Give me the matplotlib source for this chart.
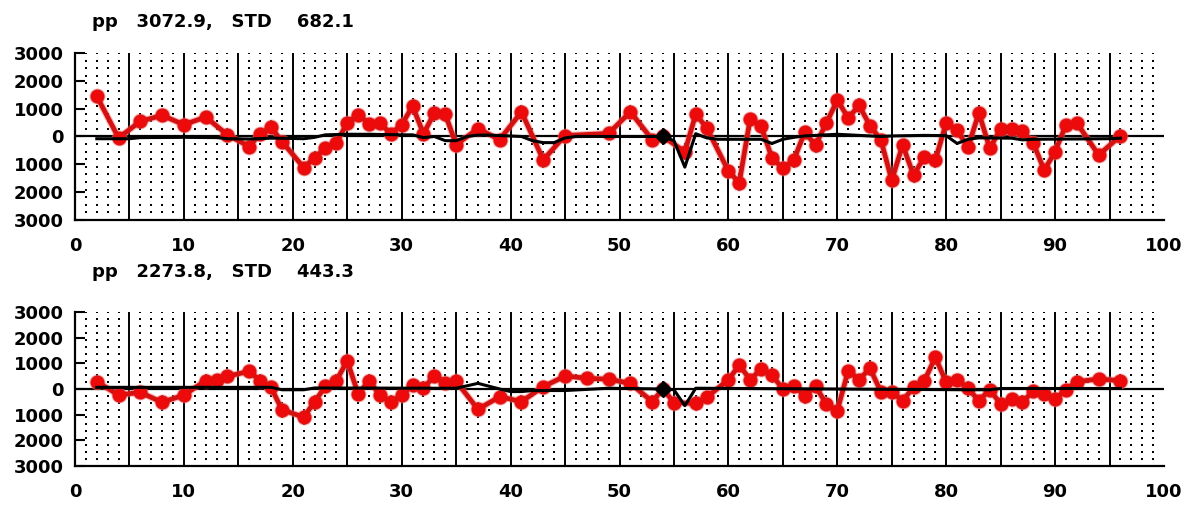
import matplotlib
matplotlib.use("Agg")
import matplotlib.pyplot as plt
from matplotlib.ticker import FixedLocator, FixedFormatter

plt.rcParams['font.family'] = ['DejaVu Sans']

# ---------------- data ----------------
titles = ["pp   3072.9,   STD    682.1", "pp   2273.8,   STD    443.3"]

x_ticks = [0, 10, 20, 30, 40, 50, 60, 70, 80, 90, 100]
x_tick_labels = ["0", "10", "20", "30", "40", "50", "60", "70", "80", "90", "100"]
y_ticks = [-3000, -2000, -1000, 0, 1000, 2000, 3000]
y_tick_labels = ["3000", "2000", "1000", "0", "1000", "2000", "3000"]

# panel 1 red series
red1_x = [2, 4, 6, 8, 10, 12, 14, 16, 17, 18, 19, 21, 22, 23, 24, 25, 26, 27, 28, 29,
          30, 31, 32, 33, 34, 35, 37, 39, 41, 43, 45, 49, 51, 53, 54, 56, 57, 58, 60,
          61, 62, 63, 64, 65, 66, 67, 68, 69, 70, 71, 72, 73, 74, 75, 76, 77, 78, 79,
          80, 81, 82, 83, 84, 85, 86, 87, 88, 89, 90, 91, 92, 94, 96]
red1_y = [1450, -50, 545, 760, 425, 700, 60, -360, 100, 330, -180, -1115, -760, -420, -220,
          485, 790, 460, 485, 100, 425, 1090, 100, 840, 800, -290, 280, -110, 885, -840,
          35, 110, 885, -110, 0, -550, 800, 315, -1240, -1660, 640, 375, -775, -1140,
          -850, 145, -300, 485, 1310, 670, 1115, 390, -120, -1575, -300, -1390, -730,
          -850, 485, 220, -390, 850, -425, 280, 255, 195, -240, -1210, -545, 425, 485,
          -665, 25]

# panel 1 black series
blk1_x = [2, 5, 6, 10, 13, 14, 16, 18, 20, 21, 22, 23, 25, 27, 30, 31, 32, 33, 34, 35,
          36, 37, 38, 41, 42, 43, 44, 45, 46, 53, 54, 55, 56, 57, 58, 59, 63, 64, 65,
          66, 67, 69, 70, 74, 75, 78, 80, 81, 82, 83, 86, 87, 88, 95, 96]
blk1_y = [-80, -80, -40, -30, -40, -80, -90, -60, -70, -80, -30, 60, 80, 80, 60, 60,
          -40, 0, -150, -150, 0, 50, 50, 0, -150, -220, -220, -50, 0, 0, 0, -150, -1100,
          100, -50, -100, -100, -250, -100, -30, 20, 60, 80, 0, 20, 40, 30, -250, -100,
          -50, -60, -120, -100, -80, -60]

# panel 2 red series
red2_x = [2, 4, 6, 8, 10, 12, 13, 14, 16, 17, 18, 19, 21, 22, 23, 24, 25, 26, 27, 28,
          29, 30, 31, 32, 33, 34, 35, 37, 39, 41, 43, 45, 47, 49, 51, 53, 54, 55, 57,
          58, 60, 61, 62, 63, 64, 65, 66, 67, 68, 69, 70, 71, 72, 73, 74, 75, 76, 77,
          78, 79, 80, 81, 82, 83, 84, 85, 86, 87, 88, 89, 90, 91, 92, 94, 96]
red2_y = [285, -235, -130, -520, -235, 325, 365, 495, 690, 325, 65, -805, -1100, -495,
          105, 325, 1100, -195, 325, -235, -520, -235, 155, 25, 520, 250, 300, -790,
          -300, -490, 90, 505, 420, 380, 220, -490, 0, -530, -560, -325, 360, 935, 360,
          780, 545, 0, 130, -260, 105, -585, -845, 715, 365, 805, -105, -105, -455, 65,
          325, 1235, 260, 365, 25, -455, -25, -585, -390, -520, -65, -195, -390, -20,
          285, 390, 325]

# panel 2 black series
blk2_x = [2, 18, 19, 21, 22, 33, 35, 37, 39, 40, 41, 42, 45, 49, 54, 55, 56, 57, 82,
          84, 85, 96]
blk2_y = [65, 65, -30, -30, 40, 30, 30, 220, 0, -100, -100, -60, -60, 30, 0, -30, -650,
          30, -30, -30, 20, 20]

marker_pt = (54, 0)

panels = [
    (titles[0], red1_x, red1_y, blk1_x, blk1_y),
    (titles[1], red2_x, red2_y, blk2_x, blk2_y),
]

# ---------------- layout ----------------
W, H = 1187, 505
fig = plt.figure(figsize=(W / 100, H / 100), dpi=100)
fig.patch.set_facecolor("white")

boxes = [(53, 220), (312, 466)]  # top / bottom pixel of each axes
title_y = [22, 272]
x_left, x_right = 75, 1164

dot_x = [i for i in range(1, 100) if i % 5 != 0]
dot_y = [-3000 + k * 6000 / 22 for k in range(1, 23)]

for (title, rx, ry, bx, by), (top, bot), ty in zip(panels, boxes, title_y):
    ax = fig.add_axes([x_left / W, 1 - bot / H, (x_right - x_left) / W, (bot - top) / H])
    ax.set_xlim(0, 100)
    ax.set_ylim(-3000, 3000)

    # dotted grid
    gx = [x for x in dot_x for _ in dot_y]
    gy = [y for _ in dot_x for y in dot_y]
    ax.scatter(gx, gy, s=2.2, marker="s", color="black", linewidths=0, zorder=1)

    # solid vertical lines
    ax.vlines(range(5, 100, 5), -3000, 3000, colors="black", lw=1.4, zorder=2)
    ax.axhline(0, color="black", lw=1.6, zorder=2)

    # red series (soft halo + main line)
    ax.plot(rx, ry, color="#f07070", lw=5.0, marker="o", markersize=10.5,
            markerfacecolor="#f07070", markeredgecolor="#f07070", alpha=0.5, zorder=3)
    ax.plot(rx, ry, color="#d41010", lw=3.4, marker="o", markersize=9,
            markerfacecolor="#ee0a0a", markeredgecolor="#e01010", zorder=3)
    # black series
    ax.plot(bx, by, color="black", lw=2.2, zorder=4)
    ax.plot([marker_pt[0]], [marker_pt[1]], marker="D", color="black",
            markersize=8, zorder=5)

    for s in ("top", "right"):
        ax.spines[s].set_visible(False)
    for s in ("left", "bottom"):
        ax.spines[s].set_linewidth(1.6)
        ax.spines[s].set_color("black")

    ax.xaxis.set_major_locator(FixedLocator(x_ticks))
    ax.xaxis.set_major_formatter(FixedFormatter(x_tick_labels))
    ax.yaxis.set_major_locator(FixedLocator(y_ticks))
    ax.yaxis.set_major_formatter(FixedFormatter(y_tick_labels))
    ax.tick_params(axis="x", length=0, pad=12, labelsize=13)
    ax.tick_params(axis="y", direction="in", length=7, width=1.5, pad=8, labelsize=13)
    for lab in ax.get_xticklabels() + ax.get_yticklabels():
        lab.set_fontweight("bold")

    fig.text(92 / W, 1 - ty / H, title, fontsize=13, fontweight="bold",
             ha="left", va="center")

fig.savefig("out.png", dpi=100, facecolor="white")
